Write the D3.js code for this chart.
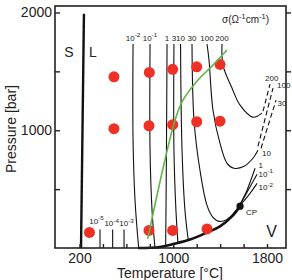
<!DOCTYPE html>
<html>
<head>
<meta charset="utf-8">
<script src="https://cdnjs.cloudflare.com/ajax/libs/d3/7.8.5/d3.min.js"></script>
<style>
body { margin: 0; background: #fff; }
svg text { font-family: "Liberation Sans", Arial, sans-serif; }
</style>
</head>
<body>
<svg id="chart" width="292" height="280"></svg>
<script>
// axis ticks
var tempTicks = [200, 400, 600, 800, 1000, 1200, 1400, 1600, 1800];
var tempLabels = [200, 1000, 1800];
var pressTicks = [500, 1000, 1500, 2000];
var pressLabels = [1000, 2000];

// solid-liquid line (S | L)
var meltT = [213, 238];
var meltP = [0, 1990];

// liquid-vapour coexistence curve up to the critical point
var coexT = [699, 887, 998, 1143, 1288, 1399, 1501, 1570];
var coexP = [0, 9, 34, 72, 132, 183, 268, 355];
var critT = 1570, critP = 355;

// measured state points (red)
var dotT = [494, 796, 995, 1200, 1399, 494, 793, 995, 1200, 1399, 285, 793, 995, 1288];
var dotP = [1454, 1491, 1517, 1539, 1559, 1013, 1038, 1047, 1072, 1077, 132, 149, 149, 162];

// green curve
var greenT = [782, 1015, 1083, 1211, 1339, 1458];
var greenP = [78, 1085, 1255, 1426, 1553, 1681];

// iso-conductivity lines labelled at the top
var isoBase = ["10", "10", "1", "3", "10", "30", "100", "200"];
var isoExp = ["-2", "-1", "", "", "", "", "", ""];
var isoT = [
  [657, 657, 674, 705],
  [802, 802, 819, 844],
  [947, 942, 938, 935],
  [1006, 1006, 1023, 1040],
  [1062, 1075, 1100, 1128],
  [1160, 1177, 1228, 1288, 1339, 1390, 1459, 1535, 1621, 1698],
  [1288, 1305, 1339, 1399, 1459, 1518, 1604, 1680, 1723],
  [1416, 1424, 1501, 1570, 1680, 1757]
];
var isoP = [
  [1732, 915, 404, 0],
  [1732, 830, 319, 4],
  [1732, 830, 319, 18],
  [1732, 830, 319, 45],
  [1732, 830, 319, 68],
  [1732, 1085, 660, 362, 260, 226, 243, 319, 472, 677],
  [1732, 1596, 1170, 889, 719, 677, 694, 762, 830],
  [1732, 1553, 1358, 1213, 1111, 1145]
];

// short branches leaving the critical region
var retT = [[1553, 1638, 1715], [1578, 1655, 1715]];
var retP = [[336, 489, 626], [370, 464, 549]];

// dashed (extrapolated) branches
var dashT = [[1766, 1826], [1723, 1851], [1749, 1877]];
var dashP = [[1162, 1392], [864, 1358], [847, 1255]];
var dashLabels = ["200", "100", "30"];

// labels on the right-hand branches
var sideBase = ["10", "1", "10", "10"];
var sideExp = ["", "", "-1", "-2"];

// low conductivity lines near the melting line
var lowT = [375, 483, 580];
var lowTop = 157;
var lowExp = ["-5", "-4", "-3"];

var svg = d3.select("#chart");
var ink = "#222";
var smallFs = 8;

var x = d3.scaleLinear().domain([-9, 1962]).range([55, 286]);
var y = d3.scaleLinear().domain([0, 2055]).range([248, 6]);

var line = d3.line()
  .x(function (d) { return x(d[0]); })
  .y(function (d) { return y(d[1]); })
  .curve(d3.curveCatmullRom.alpha(0.5));

/**
 * text with an optional superscript part
 */
function supText(g, px, py, base, sup, fs, anchor) {
  var t = g.append("text")
    .attr("x", px).attr("y", py)
    .attr("font-size", fs)
    .attr("text-anchor", anchor || "start")
    .attr("fill", ink);
  t.append("tspan").text(base);
  if (sup) {
    t.append("tspan").attr("font-size", fs * 0.78).attr("dy", -fs * 0.42).text(sup);
  }
  return t;
}

var g = svg.append("g");

// iso lines
isoT.forEach(function (ts, i) {
  g.append("path")
    .attr("d", line(d3.zip(ts, isoP[i])))
    .attr("fill", "none").attr("stroke", "#111").attr("stroke-width", 1.1);
  supText(g, x(ts[0]), 40.5, isoBase[i], isoExp[i], smallFs, "middle");
});

retT.forEach(function (ts, i) {
  g.append("path")
    .attr("d", line(d3.zip(ts, retP[i])))
    .attr("fill", "none").attr("stroke", "#111").attr("stroke-width", 1.1);
});

dashT.forEach(function (ts, i) {
  g.append("path")
    .attr("d", line(d3.zip(ts, dashP[i])))
    .attr("fill", "none").attr("stroke", "#111").attr("stroke-width", 1.1)
    .attr("stroke-dasharray", "5,3");
});
// dashed labels
supText(g, 265, 81, dashLabels[0], "", smallFs);
supText(g, 277, 88, dashLabels[1], "", smallFs);
supText(g, 277.5, 106, dashLabels[2], "", smallFs);

// right side labels
var sidePos = [[262, 156], [258.5, 168], [258.5, 176.5], [258.5, 190]];
sideBase.forEach(function (b, i) {
  supText(g, sidePos[i][0], sidePos[i][1], b, sideExp[i], smallFs);
});

// low conductivity lines
var lowShift = [-3.5, -1, 2.5];
lowT.forEach(function (t, i) {
  g.append("path")
    .attr("d", line([[t, 0], [t, lowTop]]))
    .attr("fill", "none").attr("stroke", "#111").attr("stroke-width", 1.1);
  supText(g, x(t) + lowShift[i], i === 0 ? 223.5 : 226, "10", lowExp[i], smallFs, "middle");
});

// coexistence curve
g.append("path")
  .attr("d", line(d3.zip(coexT, coexP)))
  .attr("fill", "none").attr("stroke", "#111").attr("stroke-width", 2.6);

// melting line
g.append("path")
  .attr("d", line(d3.zip(meltT, meltP)))
  .attr("fill", "none").attr("stroke", "#111").attr("stroke-width", 2.4);

// state points
g.selectAll("circle.pt")
  .data(d3.zip(dotT, dotP))
  .enter().append("circle")
  .attr("class", "pt")
  .attr("cx", function (d) { return x(d[0]); })
  .attr("cy", function (d) { return y(d[1]); })
  .attr("r", 5.5)
  .attr("fill", "#ee3124");

// green curve
g.append("path")
  .attr("d", line(d3.zip(greenT, greenP)))
  .attr("fill", "none").attr("stroke", "#5fb548").attr("stroke-width", 1.6);

// critical point
g.append("circle")
  .attr("cx", x(critT)).attr("cy", y(critP))
  .attr("r", 3.6).attr("fill", "#111");
supText(g, 246, 214.5, "CP", "", 8);

// phase labels
supText(g, 69, 57, "S", "", 14, "middle");
supText(g, 93, 57, "L", "", 14, "middle");
supText(g, 271.5, 237, "V", "", 16, "middle");

// sigma unit label
var sig = g.append("text").attr("x", 222).attr("y", 22.5)
  .attr("font-size", 10).attr("fill", ink);
sig.append("tspan").text("\u03c3(\u03a9");
sig.append("tspan").attr("font-size", 7.5).attr("dy", -4).text("-1");
sig.append("tspan").attr("dy", 4).text("cm");
sig.append("tspan").attr("font-size", 7.5).attr("dy", -4).text("-1");
sig.append("tspan").attr("dy", 4).text(")");

// axes
var xAxis = svg.append("g")
  .attr("transform", "translate(0,248)")
  .call(d3.axisBottom(x).tickValues(tempTicks).tickSizeInner(-4).tickSizeOuter(0).tickPadding(5)
    .tickFormat(function (d) { return tempLabels.indexOf(d) >= 0 ? d : ""; }));
var yAxis = svg.append("g")
  .attr("transform", "translate(55,0)")
  .call(d3.axisLeft(y).tickValues(pressTicks).tickSizeInner(-5).tickSizeOuter(0).tickPadding(3)
    .tickFormat(function (d) { return pressLabels.indexOf(d) >= 0 ? d : ""; }));
var yAxisR = svg.append("g")
  .attr("transform", "translate(286,0)")
  .call(d3.axisRight(y).tickValues(pressTicks).tickSizeInner(5).tickSizeOuter(0).tickFormat(""));

[xAxis, yAxis, yAxisR].forEach(function (a) {
  a.select(".domain").remove();
  a.selectAll("line").attr("stroke", ink).attr("stroke-width", 1.4);
  a.selectAll("text").attr("font-size", 14).attr("fill", ink)
    .attr("font-family", "\"Liberation Sans\", Arial, sans-serif");
});

// frame
svg.append("rect")
  .attr("x", 55).attr("y", 6).attr("width", 231).attr("height", 242)
  .attr("fill", "none").attr("stroke", ink).attr("stroke-width", 1.6);

// axis titles
svg.append("text")
  .attr("x", 170).attr("y", 277.5)
  .attr("text-anchor", "middle").attr("font-size", 14).attr("fill", ink)
  .text("Temperature [\u00b0C]");
svg.append("text")
  .attr("transform", "translate(15.5,129) rotate(-90)")
  .attr("text-anchor", "middle").attr("font-size", 14).attr("fill", ink)
  .text("Pressure [bar]");
</script>
</body>
</html>
